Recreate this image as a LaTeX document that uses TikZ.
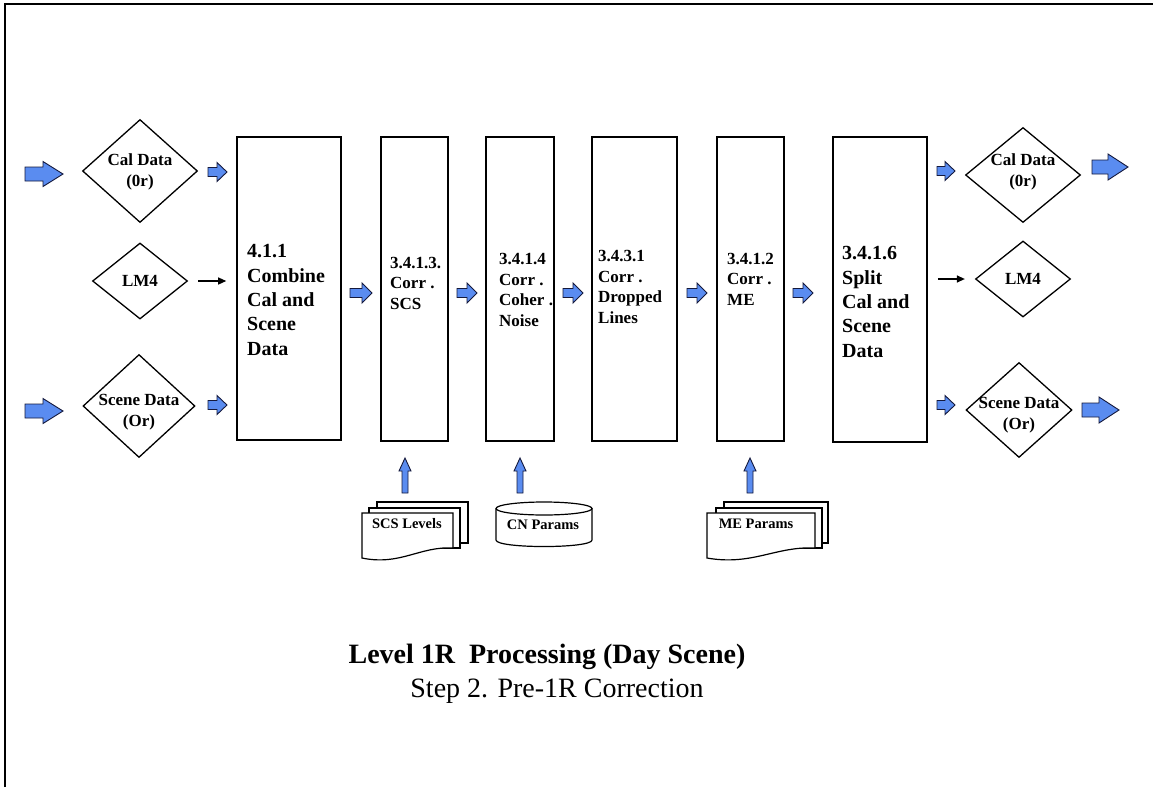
\documentclass[tikz,border=0pt]{standalone}
\usepackage{fontspec}
\setmainfont{Liberation Serif}
\usetikzlibrary{shapes.geometric,arrows.meta}
\definecolor{arrblue}{RGB}{90,140,240}
\definecolor{arredge}{RGB}{20,25,60}
\newcommand\harrow[6]{\draw[barrow] (#1,#3-#4) -- (#2-#6,#3-#4) -- (#2-#6,#3-#5) -- (#2,#3) -- (#2-#6,#3+#5) -- (#2-#6,#3+#4) -- (#1,#3+#4) -- cycle;}
\newcommand\varrow[6]{\draw[barrow] (#1-#4,#2) -- (#1-#4,#3+#6) -- (#1-#5,#3+#6) -- (#1,#3) -- (#1+#5,#3+#6) -- (#1+#4,#3+#6) -- (#1+#4,#2) -- cycle;}
\tikzset{
  procbox/.style={draw, line width=1.6pt, rectangle, inner sep=0, minimum height=304pt},
  dia/.style={draw, line width=1.3pt, diamond, inner sep=0},
  barrow/.style={draw=arredge, fill=arrblue, line width=0.9pt, line join=miter},
  thinarr/.style={line width=1.3pt, -{Triangle[length=8pt,width=7pt]}, shorten <=10pt, shorten >=10pt},
  docline/.style={draw, fill=white, line width=1.2pt},
  lbl/.style={font=\bfseries\fontsize{17}{20.5}\selectfont, align=left, inner sep=0},
  biglbl/.style={font=\bfseries\fontsize{20}{24.3}\selectfont, align=left, inner sep=0},
  dlbl/.style={font=\bfseries\fontsize{17}{21}\selectfont, align=center, inner sep=0},
  smlbl/.style={font=\bfseries\fontsize{14.5}{17}\selectfont, inner sep=0}
}
\begin{document}
\begin{tikzpicture}[x=1pt,y=-1pt]
\useasboundingbox (0,0) rectangle (1153,787);
% frame
\draw[line width=2pt] (5,787) -- (5,4) -- (1153,4);

% process boxes
\node[procbox, minimum width=104pt, minimum height=303pt] (combine) at (289,288.5) {};
\node[procbox, minimum width=67pt] (scs) at (414.5,289) {};
\node[procbox, minimum width=68pt] (coher) at (520,289) {};
\node[procbox, minimum width=85pt] (dropped) at (634.5,289) {};
\node[procbox, minimum width=67pt] (me) at (750.5,289) {};
\node[procbox, minimum width=94pt, minimum height=305pt] (split) at (880,289.5) {};

\node[biglbl, anchor=west] (combine-t) at (247,300) {4.1.1\\Combine\\Cal and\\Scene\\Data};
\node[lbl, anchor=west] (scs-t) at (390,283) {3.4.1.3.\\Corr .\\SCS};
\node[lbl, anchor=west] (coher-t) at (499,290) {3.4.1.4\\Corr .\\Coher .\\Noise};
\node[lbl, anchor=west] (dropped-t) at (598,287) {3.4.3.1\\Corr .\\Dropped\\Lines};
\node[lbl, anchor=west] (me-t) at (727,279) {3.4.1.2\\Corr .\\ME};
\node[biglbl, anchor=west] (split-t) at (842,302) {3.4.1.6\\Split\\Cal and\\Scene\\Data};

% input diamonds
\node[dia, minimum width=115pt, minimum height=103pt] (calin) at (140,171) {};
\node[dia, minimum width=95pt, minimum height=76pt] (lmin) at (140,281) {};
\node[dia, minimum width=112pt, minimum height=103pt] (scnin) at (139,406) {};
\node[dlbl] (calin-t) at (140,172) {Cal Data\\(0r)};
\node[dlbl] (lmin-t) at (lmin) {LM4};
\node[dlbl] (scnin-t) at (139,412) {Scene Data\\(Or)};

% output diamonds
\node[dia, minimum width=115pt, minimum height=95pt] (calout) at (1023,175) {};
\node[dia, minimum width=95pt, minimum height=76pt] (lmout) at (1023,279) {};
\node[dia, minimum width=106pt, minimum height=95pt] (scnout) at (1019,410) {};
\node[dlbl] (calout-t) at (1023,172) {Cal Data\\(0r)};
\node[dlbl] (lmout-t) at (lmout) {LM4};
\node[dlbl] (scnout-t) at (1019,415) {Scene Data\\(Or)};

% LM4 thin arrows
\draw[thinarr] (lmin.east) -- (lmin.east -| combine.west);
\draw[thinarr] (lmout.west -| split.east) -- (lmout.west);

% big blue arrows
\harrow{25}{63}{174}{7}{12.5}{20}
\harrow{25}{63}{411}{7}{12.5}{20}
\harrow{1092}{1128}{167}{7}{13}{20}
\harrow{1082}{1119}{410}{7}{13}{20}

% small blue arrows
\harrow{208}{227}{172}{4.5}{9.5}{10}
\harrow{208}{227}{405}{4.5}{9.5}{10}
\harrow{350}{372}{293}{4.5}{10}{10}
\harrow{457}{477}{293}{4.5}{10}{10}
\harrow{563}{583}{293}{4.5}{10}{10}
\harrow{687}{707}{293}{4.5}{10}{10}
\harrow{793}{813}{293}{4.5}{10}{10}
\harrow{937}{955}{171}{4.5}{9.5}{10}
\harrow{937}{955}{405}{4.5}{9.5}{10}

% up arrows
\varrow{405}{493}{458}{3}{6}{13}
\varrow{520}{493}{458}{3}{6}{13}
\varrow{750}{493}{458}{3}{6}{13}

% SCS Levels document stack
\draw[docline] (377,502) rectangle (468,543);
\draw[docline] (369,508) rectangle (460,548);
\draw[docline] (362,513) -- (453,513) -- (453,548) .. controls (420,546) and (400,566) .. (362,558) -- cycle;
\node[smlbl] (scslev) at (407,524) {SCS Levels};

% CN Params cylinder
\draw[docline] (496,508.5) -- (496,540) .. controls (496,548.7) and (592,548.7) .. (592,540) -- (592,508.5);
\draw[docline] (544,508.5) ellipse [x radius=48pt, y radius=6.5pt];
\node[smlbl] (cnpar) at (543,525) {CN Params};

% ME Params document stack
\draw[docline] (724,502) rectangle (828,543);
\draw[docline] (716,508) rectangle (822,548);
\draw[docline] (707,513) -- (815,513) -- (815,548) .. controls (776,546) and (752,566) .. (707,558) -- cycle;
\node[smlbl] (mepar) at (756,524) {ME Params};

% titles
\node[font=\bfseries\fontsize{28}{32}\selectfont, anchor=base, inner sep=0] (title) at (547,663) {Level 1R\ \ Processing (Day Scene)};
\node[font=\fontsize{28}{32}\selectfont, anchor=base, inner sep=0] (subtitle) at (557,697) {Step 2. Pre-1R Correction};
\end{tikzpicture}
\end{document}
